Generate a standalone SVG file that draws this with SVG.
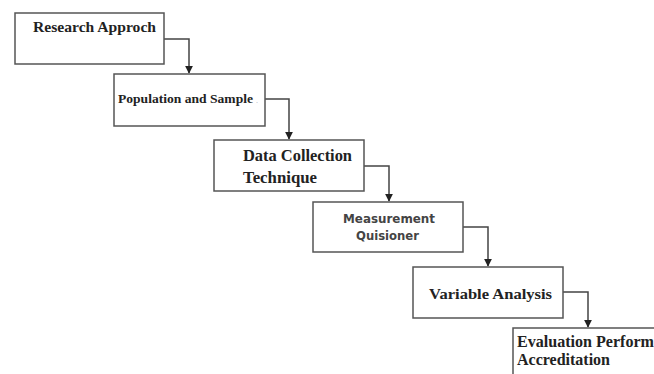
<svg xmlns="http://www.w3.org/2000/svg" width="654" height="374" viewBox="0 0 654 374">
<defs>
<style>
.box{fill:#fff;stroke:#555;stroke-width:1.5}
.con{fill:none;stroke:#444;stroke-width:1.5}
.t{font-family:"Liberation Serif","Times New Roman",serif;font-weight:bold;fill:#222}
.s{font-family:"DejaVu Sans",Verdana,sans-serif;font-weight:bold;fill:#444}
</style>
<marker id="ar" viewBox="0 0 10 10" refX="9" refY="5" markerWidth="8" markerHeight="8" orient="auto" markerUnits="userSpaceOnUse">
<path d="M0,0 L10,5 L0,10 z" fill="#222"/>
</marker>
</defs>
<rect width="654" height="374" fill="#fff"/>
<g id="connectors">
<path class="con" d="M164,39 H189 V73" marker-end="url(#ar)"/>
<path class="con" d="M265,99 H289 V139" marker-end="url(#ar)"/>
<path class="con" d="M364,166 H389 V201" marker-end="url(#ar)"/>
<path class="con" d="M463,227 H488 V266" marker-end="url(#ar)"/>
<path class="con" d="M563,292 H588 V327" marker-end="url(#ar)"/>
</g>
<g id="n1">
<rect class="box" x="15" y="13" width="149" height="51"/>
<text class="t" x="33" y="32" font-size="15.5" textLength="123" lengthAdjust="spacingAndGlyphs">Research Approch</text>
</g>
<g id="n2">
<rect class="box" x="114" y="74" width="151" height="52"/>
<text class="t" x="118" y="103" font-size="13.5" textLength="135" lengthAdjust="spacingAndGlyphs">Population and Sample</text>
<text x="256" y="103" font-size="8" font-family="Liberation Serif,serif" fill="#aab">.</text>
</g>
<g id="n3">
<rect class="box" x="214" y="140" width="150" height="51"/>
<text class="t" x="243" y="161" font-size="16" textLength="109" lengthAdjust="spacingAndGlyphs">Data Collection</text>
<text class="t" x="243" y="183" font-size="16" textLength="74" lengthAdjust="spacingAndGlyphs">Technique</text>
</g>
<g id="n4">
<rect class="box" x="313" y="202" width="150" height="50"/>
<text class="s" x="343" y="223" font-size="13" textLength="92" lengthAdjust="spacingAndGlyphs">Measurement</text>
<text class="s" x="356" y="240" font-size="13" textLength="63" lengthAdjust="spacingAndGlyphs">Quisioner</text>
</g>
<g id="n5">
<rect class="box" x="413" y="267" width="150" height="51"/>
<text class="t" x="429" y="299" font-size="15.5" textLength="123" lengthAdjust="spacingAndGlyphs">Variable Analysis</text>
</g>
<g id="n6">
<rect class="box" x="513" y="328" width="160" height="60"/>
<text class="t" x="517" y="347" font-size="16" textLength="137" lengthAdjust="spacingAndGlyphs">Evaluation Perform</text>
<text class="t" x="517" y="365" font-size="16" textLength="93" lengthAdjust="spacingAndGlyphs">Accreditation</text>
</g>
</svg>
